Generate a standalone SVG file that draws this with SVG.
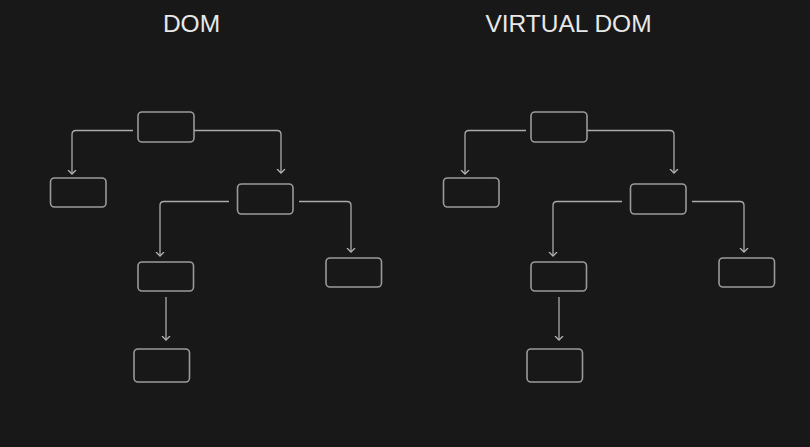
<svg xmlns="http://www.w3.org/2000/svg" width="810" height="447" viewBox="0 0 810 447">
  <defs>
    <marker id="arrow" markerUnits="userSpaceOnUse" markerWidth="10" markerHeight="10" refX="4" refY="5" viewBox="0 0 10 10" orient="auto">
      <path d="M0,1 L4,5 L0,9" fill="none" stroke="#b4b4b4" stroke-width="1.3"/>
    </marker>
  </defs>
  <style>
    .box { fill: none; stroke: #9a9a9a; stroke-width: 1.6; }
    .conn { fill: none; stroke: #aaaaaa; stroke-width: 1.3; marker-end: url(#arrow); }
    .title { font-family: "Liberation Sans", Arial, sans-serif; font-size: 24.5px; fill: #e8e8e8; text-anchor: middle; }
  </style>
  <rect width="810" height="447" fill="#181818"/>

  <g id="title-dom"><text class="title" x="191.5" y="31.5">DOM</text></g>
  <g id="title-vdom"><text class="title" x="568.5" y="31.5">VIRTUAL DOM</text></g>

  <g id="connectors">
    <path class="conn" d="M133,130.5 H76 Q72,130.5 72,134.5 V174"/>
    <path class="conn" d="M194,130.5 H277 Q281,130.5 281,134.5 V173"/>
    <path class="conn" d="M229,201.5 H164 Q160,201.5 160,205.5 V256"/>
    <path class="conn" d="M299,201.5 H347 Q351,201.5 351,205.5 V252"/>
    <path class="conn" d="M166,297 V340"/>

    <path class="conn" d="M526,130.5 H469 Q465,130.5 465,134.5 V174"/>
    <path class="conn" d="M587,130.5 H670 Q674,130.5 674,134.5 V173"/>
    <path class="conn" d="M622,201.5 H557 Q553,201.5 553,205.5 V256"/>
    <path class="conn" d="M692,201.5 H740 Q744,201.5 744,205.5 V252"/>
    <path class="conn" d="M559,297 V340"/>
  </g>

  <g id="dom-root"><rect class="box" x="138" y="112" width="56" height="30" rx="4"/></g>
  <g id="dom-left"><rect class="box" x="50.5" y="178" width="55.5" height="29" rx="4"/></g>
  <g id="dom-mid"><rect class="box" x="237.5" y="184" width="55.5" height="30" rx="4"/></g>
  <g id="dom-midleft"><rect class="box" x="138" y="262" width="55.5" height="29" rx="4"/></g>
  <g id="dom-right"><rect class="box" x="326" y="258" width="55.5" height="29" rx="4"/></g>
  <g id="dom-bottom"><rect class="box" x="134" y="349" width="55.5" height="33" rx="4"/></g>

  <g id="vdom-root"><rect class="box" x="531" y="112" width="56" height="30" rx="4"/></g>
  <g id="vdom-left"><rect class="box" x="443.5" y="178" width="55.5" height="29" rx="4"/></g>
  <g id="vdom-mid"><rect class="box" x="630.5" y="184" width="55.5" height="30" rx="4"/></g>
  <g id="vdom-midleft"><rect class="box" x="531" y="262" width="55.5" height="29" rx="4"/></g>
  <g id="vdom-right"><rect class="box" x="719" y="258" width="55.5" height="29" rx="4"/></g>
  <g id="vdom-bottom"><rect class="box" x="527" y="349" width="55.5" height="33" rx="4"/></g>
</svg>
